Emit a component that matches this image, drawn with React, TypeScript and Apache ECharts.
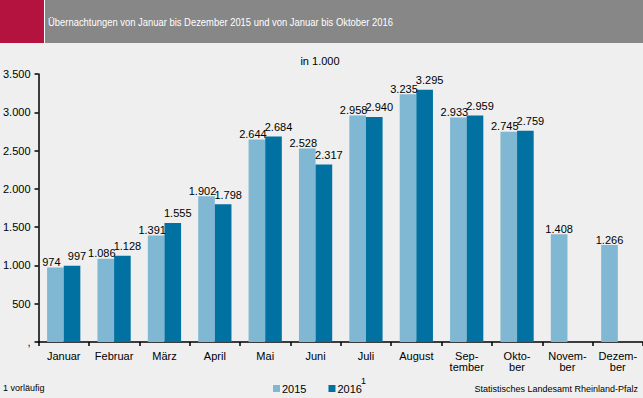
import React, { useEffect, useRef } from "react";
import * as echarts from "echarts";

const months = ["Januar", "Februar", "März", "April", "Mai", "Juni", "Juli", "August", "Sep-\ntember", "Okto-\nber", "Novem-\nber", "Dezem-\nber"];
const values2015 = [974, 1086, 1391, 1902, 2644, 2528, 2958, 3235, 2933, 2745, 1408, 1266];
const values2016: (number | null)[] = [997, 1128, 1555, 1798, 2684, 2317, 2940, 3295, 2959, 2759, null, null];

const fmt = (v: number) => {
  const s = String(Math.round(v));
  return s.replace(/\B(?=(\d{3})+(?!\d))/g, ".");
};

const FONT = "Arial, 'Liberation Sans', sans-serif";

export default function App() {
  const ref = useRef<HTMLDivElement>(null);
  useEffect(() => {
    if (!ref.current) return;
    const chart = echarts.init(ref.current, undefined, { renderer: "svg" });
    const data2015 = values2015.map((v, i) => ({
      value: v,
      label: { offset: [values2016[i] == null ? 0 : -4, 0] },
    }));
    chart.setOption({
      animation: false,
      backgroundColor: "#eeefee",
      textStyle: { fontFamily: FONT },
      graphic: [
        { type: "rect", shape: { x: 0, y: 0, width: 643, height: 43 }, style: { fill: "#ffffff" } },
        { type: "rect", shape: { x: 0, y: 0, width: 44, height: 43 }, style: { fill: "#b5133f" } },
        { type: "rect", shape: { x: 45, y: 0, width: 598, height: 43 }, style: { fill: "#878787" } },
        { type: "text", x: 48, y: 22, scaleX: 0.82, style: { text: "Übernachtungen von Januar bis Dezember 2015 und von Januar bis Oktober 2016", fill: "#ffffff", font: "11.5px " + FONT, verticalAlign: "middle" } },
        { type: "text", x: 320, y: 61, style: { text: "in 1.000", fill: "#000", font: "11px " + FONT, align: "center", verticalAlign: "middle" } },
        { type: "text", x: 3, y: 388, style: { text: "1 vorläufig", fill: "#000", font: "9px " + FONT, verticalAlign: "middle" } },
        { type: "text", x: 638, y: 389, style: { text: "Statistisches Landesamt Rheinland-Pfalz", fill: "#000", font: "9px " + FONT, align: "right", verticalAlign: "middle" } },
        { type: "text", x: 361, y: 381, style: { text: "1", fill: "#000", font: "9px " + FONT, verticalAlign: "middle" } },
      ],
      legend: {
        left: 273,
        top: 383,
        padding: 0,
        itemWidth: 7,
        itemHeight: 7,
        itemGap: 22,
        icon: "rect",
        textStyle: { fontSize: 11, color: "#000", padding: [0, 0, 0, -3] },
        data: ["2015", "2016"],
      },
      grid: { left: 37, right: 0, top: 74, bottom: 56, containLabel: false },
      xAxis: {
        type: "category",
        data: months,
        axisLine: { lineStyle: { color: "#000", width: 1.5 } },
        axisTick: { show: true, length: 4, lineStyle: { color: "#000", width: 1.5 } },
        axisLabel: { color: "#000", fontSize: 11, margin: 8, lineHeight: 11, interval: 0 },
      },
      yAxis: {
        type: "value",
        min: 0,
        max: 3500,
        interval: 500,
        splitLine: { show: false },
        axisLine: { show: true, lineStyle: { color: "#000", width: 1.5 } },
        axisTick: { show: true, length: 4, lineStyle: { color: "#000", width: 1.5 } },
        axisLabel: { color: "#000", fontSize: 11, margin: 8, formatter: (v: number) => (v === 0 ? "," : fmt(v)) },
      },
      series: [
        {
          name: "2015",
          type: "bar",
          data: data2015,
          itemStyle: { color: "#80b7d2" },
          barGap: "0%",
          barCategoryGap: "34%",
          label: { show: true, position: "top", distance: 0, color: "#000", fontSize: 11, formatter: (p: any) => fmt(p.value) },
        },
        {
          name: "2016",
          type: "bar",
          data: values2016,
          itemStyle: { color: "#0071a1" },
          barGap: "0%",
          barCategoryGap: "34%",
          label: { show: true, position: "top", distance: 4, offset: [5, 0], color: "#000", fontSize: 11, formatter: (p: any) => (p.value == null ? "" : fmt(p.value)) },
        },
      ],
    });
    return () => chart.dispose();
  }, []);
  return <div ref={ref} style={{ position: "absolute", left: 0, top: 0, width: 643, height: 398 }} />;
}
